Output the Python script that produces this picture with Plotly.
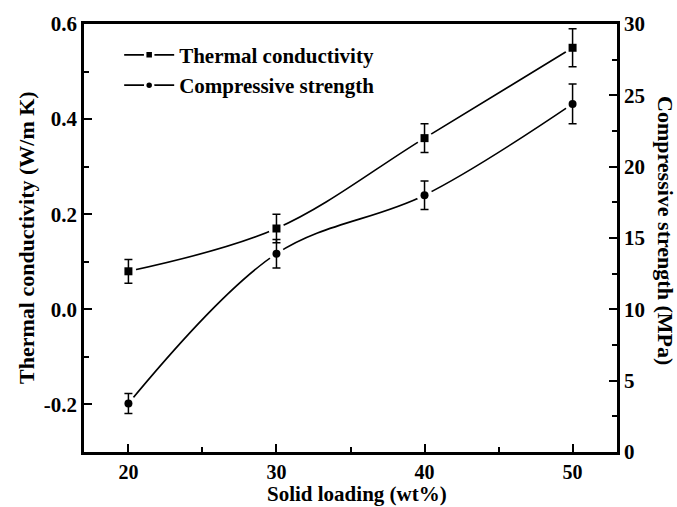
import plotly.graph_objects as go

# ---- data ----
solid_loading = [20, 30, 40, 50]
thermal_cond = [0.08, 0.17, 0.36, 0.55]
thermal_err = [0.025, 0.03, 0.03, 0.04]
comp_strength = [3.4, 13.9, 18.0, 24.4]
comp_err = [0.7, 1.0, 1.0, 1.4]

left_ticks = [-0.2, 0.0, 0.2, 0.4, 0.6]
left_ticktext = ["-0.2", "0.0", "0.2", "0.4", "0.6"]
right_ticks = [0, 5, 10, 15, 20, 25, 30]
x_ticks = [20, 30, 40, 50]

FONT = "Liberation Serif"
BLACK = "#000000"

fig = go.Figure()

def add_series(y, err, symbol, name, yaxis):
    # smooth connecting line
    fig.add_trace(go.Scatter(x=solid_loading, y=y, mode="lines", yaxis=yaxis,
                             line=dict(color=BLACK, width=1.6, shape="spline", smoothing=1.0),
                             showlegend=False, hoverinfo="skip"))
    # white mask to leave a small gap around each point (Origin style)
    fig.add_trace(go.Scatter(x=solid_loading, y=y, mode="markers", yaxis=yaxis,
                             marker=dict(symbol="circle", size=16, color="white"),
                             showlegend=False, hoverinfo="skip"))
    # markers with error bars
    fig.add_trace(go.Scatter(x=solid_loading, y=y, mode="markers", yaxis=yaxis,
                             marker=dict(symbol=symbol, size=8, color=BLACK),
                             error_y=dict(type="data", array=err, visible=True,
                                          color=BLACK, thickness=1.5, width=4),
                             showlegend=False))
    # legend entry
    fig.add_trace(go.Scatter(x=[None], y=[None], mode="lines+markers", yaxis=yaxis,
                             name=name,
                             line=dict(color=BLACK, width=1.6),
                             marker=dict(symbol=symbol, size=8, color=BLACK,
                                         line=dict(color="white", width=2.5)),
                             showlegend=True))

add_series(thermal_cond, thermal_err, "square", "Thermal conductivity", "y")
add_series(comp_strength, comp_err, "circle", "Compressive strength", "y2")

tickfont = dict(family=FONT, size=21, color=BLACK, weight="bold")
xtickfont = dict(family=FONT, size=20, color=BLACK, weight="bold")
titlefont = dict(family=FONT, size=22, color=BLACK, weight="bold")
xtitlefont = dict(family=FONT, size=21, color=BLACK, weight="bold")

fig.update_layout(
    width=677, height=507,
    margin=dict(l=84, r=60, t=22, b=55),
    paper_bgcolor="white", plot_bgcolor="white",
    font=dict(family=FONT, color=BLACK),
    showlegend=True,
    legend=dict(x=0.066, y=0.975, xanchor="left", yanchor="top",
                bgcolor="rgba(0,0,0,0)", borderwidth=0, itemwidth=50,
                font=dict(family=FONT, size=21, color=BLACK, weight="bold"),
                tracegroupgap=0, itemsizing="trace"),
    xaxis=dict(range=[17, 53], tickvals=x_ticks, ticks="inside", ticklen=8,
               tickwidth=2, tickcolor=BLACK, showline=True, linewidth=2.5,
               linecolor=BLACK, mirror=True, showgrid=False, zeroline=False,
               tickfont=xtickfont,
               minor=dict(ticks="inside", ticklen=5, tickwidth=2,
                          tickcolor=BLACK, dtick=5, tick0=0, showgrid=False)),
    yaxis=dict(range=[-0.3, 0.6], tickvals=left_ticks, ticktext=left_ticktext,
               ticks="inside", ticklen=8, tickwidth=2, tickcolor=BLACK,
               showline=True, linewidth=2.5, linecolor=BLACK, mirror=False,
               showgrid=False, zeroline=False, tickfont=tickfont,
               minor=dict(ticks="inside", ticklen=5, tickwidth=2,
                          tickcolor=BLACK, dtick=0.1, tick0=0, showgrid=False)),
    yaxis2=dict(range=[0, 30], tickvals=right_ticks, overlaying="y", side="right",
                ticks="inside", ticklen=8, tickwidth=2, tickcolor=BLACK,
                showline=True, linewidth=2.5, linecolor=BLACK,
                showgrid=False, zeroline=False, tickfont=tickfont,
                minor=dict(ticks="inside", ticklen=5, tickwidth=2,
                           tickcolor=BLACK, dtick=2.5, tick0=0, showgrid=False)),
    annotations=[
        dict(text="Thermal conductivity (W/m K)", xref="paper", yref="paper",
             x=0, y=0.5, xanchor="center", yanchor="middle", xshift=-58,
             textangle=-90, showarrow=False, font=titlefont),
        dict(text="Compressive strength (MPa)", xref="paper", yref="paper",
             x=1, y=0.5, xanchor="center", yanchor="middle", xshift=49, yshift=8,
             textangle=90, showarrow=False, font=titlefont),
        dict(text="Solid loading (wt%)", xref="paper", yref="paper",
             x=0.5, y=0, xanchor="center", yanchor="bottom", xshift=6, yshift=-55,
             borderpad=0, showarrow=False, font=xtitlefont),
    ],
)

fig.write_html("out.html")
